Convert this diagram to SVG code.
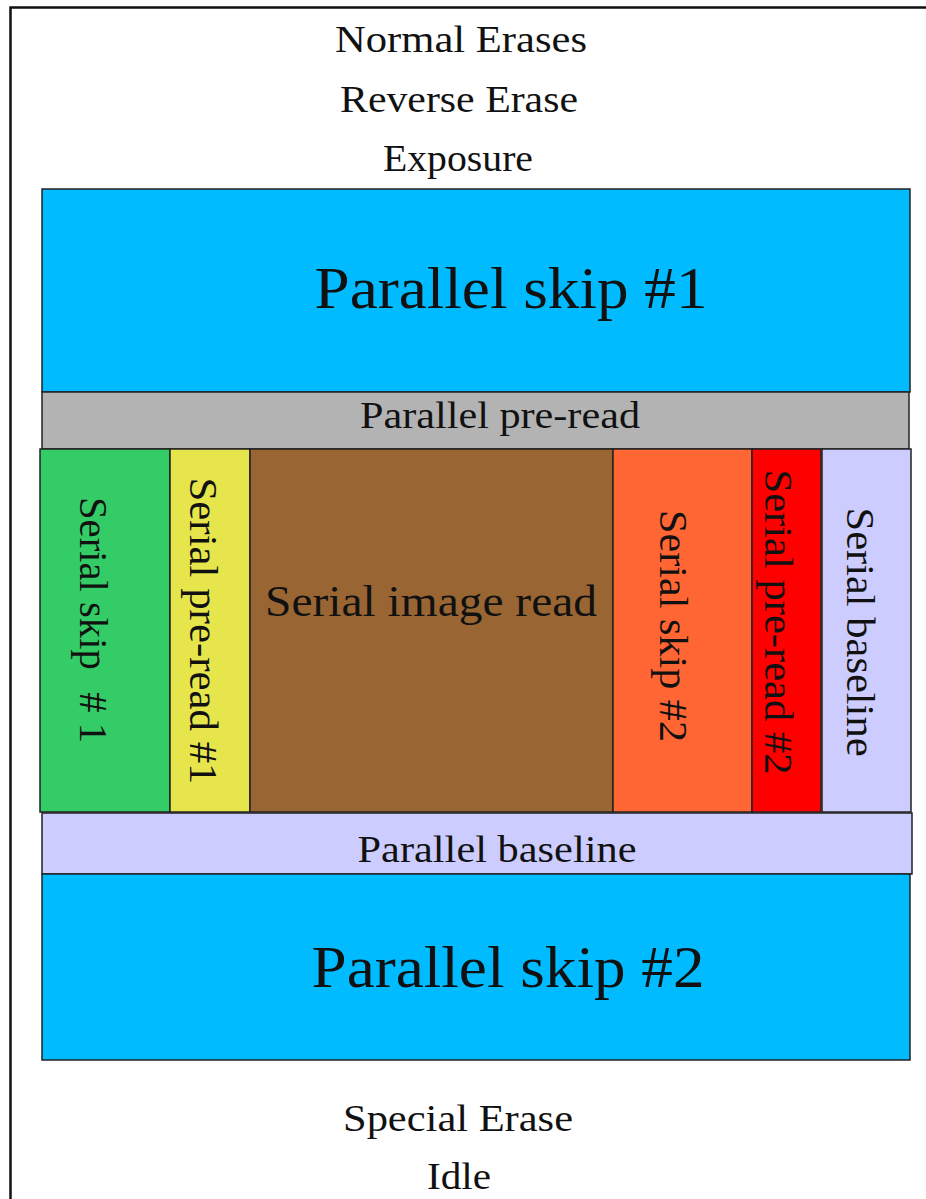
<svg xmlns="http://www.w3.org/2000/svg" width="926" height="1199" viewBox="0 0 926 1199">
<style>
text{font-family:"Liberation Serif","Times New Roman",serif;fill:#111;text-anchor:middle}
.box{stroke:#222;stroke-width:1.5}
.sm{font-size:37px}
.big{font-size:60px}
.vt{font-size:40px}
</style>
<rect x="0" y="0" width="926" height="1199" fill="#fff"/>
<path d="M10.5,1199 V7.5 H926" fill="none" stroke="#111" stroke-width="2.5"/>
<g id="labels-top">
<text class="sm" x="461" y="52" textLength="252" lengthAdjust="spacingAndGlyphs">Normal Erases</text>
<text class="sm" x="459" y="112" textLength="238" lengthAdjust="spacingAndGlyphs">Reverse Erase</text>
<text class="sm" x="458" y="171" textLength="150" lengthAdjust="spacingAndGlyphs">Exposure</text>
</g>
<g id="parallel-skip-1">
<rect class="box" x="42" y="189" width="868" height="203" fill="#00bbff"/>
<text class="big" x="511" y="308" textLength="393" lengthAdjust="spacingAndGlyphs">Parallel skip #1</text>
</g>
<g id="parallel-pre-read">
<rect class="box" x="42" y="392" width="867" height="57" fill="#b3b3b3"/>
<text class="sm" x="500" y="428" textLength="280" lengthAdjust="spacingAndGlyphs">Parallel pre-read</text>
</g>
<g id="serial-skip-1">
<rect class="box" x="40" y="449" width="130" height="363" fill="#33cc66"/>
<text class="vt" transform="translate(80,620) rotate(90)" textLength="246" lengthAdjust="spacingAndGlyphs">Serial skip <tspan dx="12"># 1</tspan></text>
</g>
<g id="serial-pre-read-1">
<rect class="box" x="170" y="449" width="80" height="363" fill="#e6e64c"/>
<text class="vt" transform="translate(190,631) rotate(90)" textLength="307" lengthAdjust="spacingAndGlyphs">Serial pre-read #1</text>
</g>
<g id="serial-image-read">
<rect class="box" x="250" y="449" width="363" height="363" fill="#996633"/>
<text x="431" y="616" font-size="44" textLength="332" lengthAdjust="spacingAndGlyphs">Serial image read</text>
</g>
<g id="serial-skip-2">
<rect class="box" x="613" y="449" width="139" height="363" fill="#ff6633"/>
<text class="vt" transform="translate(660,626) rotate(90)" textLength="232" lengthAdjust="spacingAndGlyphs">Serial skip #2</text>
</g>
<g id="serial-pre-read-2">
<rect class="box" x="752" y="449" width="69" height="363" fill="#ff0000"/>
<text class="vt" transform="translate(765,622) rotate(90)" textLength="305" lengthAdjust="spacingAndGlyphs">Serial pre-read #2</text>
</g>
<g id="serial-baseline">
<rect class="box" x="822" y="449" width="89" height="363" fill="#ccccff"/>
<text class="vt" transform="translate(847,632) rotate(90)" textLength="249" lengthAdjust="spacingAndGlyphs">Serial baseline</text>
</g>
<g id="parallel-baseline">
<rect class="box" x="42" y="813" width="870" height="61" fill="#ccccff"/>
<text class="sm" x="497" y="862" textLength="279" lengthAdjust="spacingAndGlyphs">Parallel baseline</text>
</g>
<g id="parallel-skip-2">
<rect class="box" x="42" y="874" width="868" height="186" fill="#00bbff"/>
<text class="big" x="508" y="987" textLength="393" lengthAdjust="spacingAndGlyphs">Parallel skip #2</text>
</g>
<g id="labels-bottom">
<text class="sm" x="458" y="1131" textLength="230" lengthAdjust="spacingAndGlyphs">Special Erase</text>
<text class="sm" x="459" y="1189" textLength="64" lengthAdjust="spacingAndGlyphs">Idle</text>
</g>
<g id="connectors"></g>
</svg>
